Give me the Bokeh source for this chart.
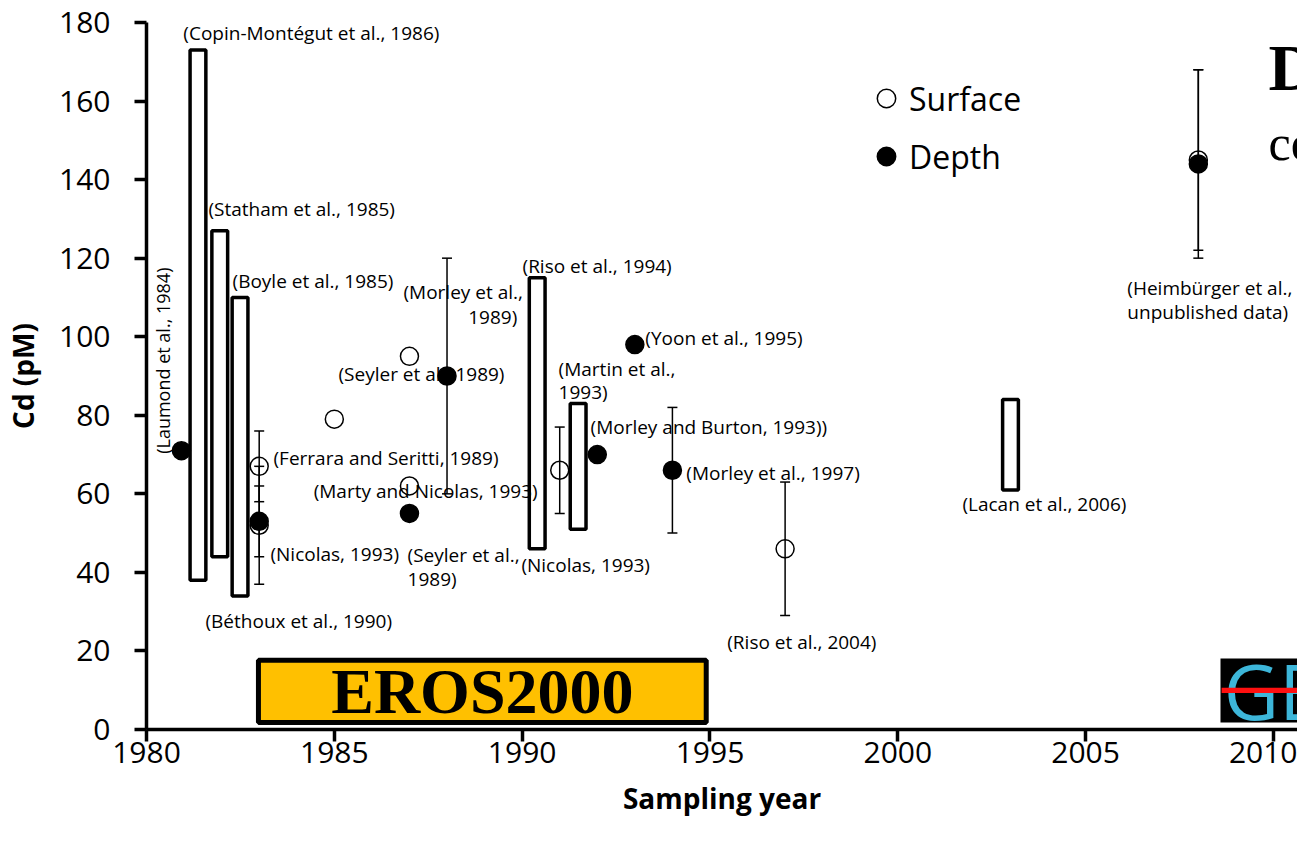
import math
from bokeh.plotting import figure
from bokeh.models import (ColumnDataSource, Whisker, TeeHead, BoxAnnotation, Label,
                          Legend, LegendItem, FixedTicker, Range1d)
from bokeh.embed import file_html
from bokeh.resources import INLINE
from bokeh.core.properties import value

# ---------------- data ----------------
# ranges reported as min-max boxes
range_year = [1981.37, 1981.95, 1982.49, 1990.40, 1991.49, 2003.0]
range_low = [38, 44, 34, 46, 51, 61]
range_high = [173, 127, 110, 115, 83, 84]

# surface samples (open circles)
surface_year = [1983, 1983, 1985, 1987, 1987, 1991, 1997, 2008]
surface_cd = [67, 52, 79, 95, 62, 66, 46, 145]
surface_err = [9, 15, 0, 0, 0, 11, 17, 23]

# depth samples (filled circles)
depth_year = [1980.93, 1983, 1987, 1988, 1992, 1993, 1994, 2008]
depth_cd = [71, 53, 55, 90, 70, 98, 66, 144]
depth_err = [0, 9, 0, 30, 0, 0, 16, 24]

x_ticks = [1980, 1985, 1990, 1995, 2000, 2005, 2010]
y_ticks = [0, 20, 40, 60, 80, 100, 120, 140, 160, 180]

# reference labels: text, anchor year, anchor Cd, alignment
ref_labels = [
    ("(Copin-Montégut et al., 1986)", 1980.98, 177.4, "left"),
    ("(Statham et al., 1985)", 1981.65, 132.6, "left"),
    ("(Boyle et al., 1985)", 1982.29, 114.3, "left"),
    ("(Morley et al.,", 1986.84, 111.3, "left"),
    ("1989)", 1989.87, 105.1, "right"),
    ("(Riso et al., 1994)", 1990.01, 118.1, "left"),
    ("(Seyler et al., 1989)", 1985.11, 90.6, "left"),
    ("(Yoon et al., 1995)", 1993.28, 99.8, "left"),
    ("(Martin et al.,", 1990.97, 91.9, "left"),
    ("1993)", 1990.97, 86.0, "left"),
    ("(Morley and Burton, 1993))", 1991.82, 77.1, "left"),
    ("(Ferrara and Seritti, 1989)", 1983.38, 69.0, "left"),
    ("(Morley et al., 1997)", 1994.37, 65.4, "left"),
    ("(Marty and Nicolas, 1993)", 1984.45, 60.6, "left"),
    ("(Nicolas, 1993)", 1983.30, 44.8, "left"),
    ("(Seyler et al.,", 1986.95, 44.3, "left"),
    ("1989)", 1986.95, 38.4, "left"),
    ("(Nicolas, 1993)", 1989.98, 42.0, "left"),
    ("(Béthoux et al., 1990)", 1981.57, 27.7, "left"),
    ("(Riso et al., 2004)", 1995.46, 22.4, "left"),
    ("(Lacan et al., 2006)", 2001.72, 57.3, "left"),
    ("(Heimbürger et al.,", 2006.11, 112.5, "left"),
    ("unpublished data)", 2006.11, 106.4, "left"),
]

FONT = "Open Sans"

p = figure(width=1297, height=835,
           x_range=Range1d(1980, 2010.64), y_range=Range1d(0, 180),
           output_backend="svg", toolbar_location=None,
           min_border_left=146, min_border_right=0,
           min_border_top=22, min_border_bottom=106)
p.outline_line_color = None
p.grid.visible = False
p.background_fill_color = "white"

# axes
for ax in (p.xaxis[0], p.yaxis[0]):
    ax.axis_line_width = 3.5
    ax.axis_line_color = "black"
    ax.major_tick_line_width = 3.5
    ax.major_tick_line_color = "black"
    ax.major_tick_out = 12
    ax.major_tick_in = 0
    ax.minor_tick_line_color = None
    ax.major_label_text_font = FONT
    ax.major_label_text_font_size = "30px"
    ax.major_label_text_color = "black"
    ax.axis_label_text_font = FONT
    ax.axis_label_text_font_style = "bold"
    ax.axis_label_text_font_size = "28px"
    ax.axis_label_text_color = "black"

p.xaxis.ticker = FixedTicker(ticks=x_ticks)
p.yaxis.ticker = FixedTicker(ticks=y_ticks)
p.xaxis.axis_label = "Sampling year"
p.yaxis.axis_label = "Cd (pM)"
p.xaxis.major_label_standoff = 0
p.xaxis.axis_label_standoff = 13
p.yaxis.major_label_standoff = 24
p.yaxis.axis_label_standoff = 14

# range boxes
p.vbar(x=range_year, width=0.42, bottom=range_low, top=range_high,
       fill_color="white", line_color="black", line_width=3.5)


def err_source(xs, ys, es):
    xx, lo, hi = [], [], []
    for x, y, e in zip(xs, ys, es):
        if e > 0:
            xx.append(x)
            lo.append(y - e)
            hi.append(y + e)
    return ColumnDataSource(dict(x=xx, lower=lo, upper=hi))


for xs, ys, es in ((surface_year, surface_cd, surface_err),
                   (depth_year, depth_cd, depth_err)):
    w = Whisker(base="x", lower="lower", upper="upper",
                source=err_source(xs, ys, es), dimension="height",
                line_color="black", line_width=1.5, level="glyph",
                upper_head=TeeHead(size=10, line_width=1.5, line_color="black"),
                lower_head=TeeHead(size=10, line_width=1.5, line_color="black"))
    p.add_layout(w)

rs = p.scatter(surface_year, surface_cd, marker="circle", size=18,
               fill_color="white", line_color="black", line_width=1.5)
rd = p.scatter(depth_year, depth_cd, marker="circle", size=18,
               fill_color="black", line_color="black", line_width=1.5)

# reference labels
left = [r for r in ref_labels if r[3] == "left"]
right = [r for r in ref_labels if r[3] == "right"]
for group, align in ((left, "left"), (right, "right")):
    src = ColumnDataSource(dict(text=[g[0] for g in group],
                                x=[g[1] for g in group],
                                y=[g[2] for g in group]))
    p.text(x="x", y="y", text="text", source=src, text_font=value(FONT),
           text_font_size="19px", text_color="black",
           text_align=align, text_baseline="middle")

p.add_layout(Label(x=1980.45, y=93.9, text="(Laumond et al., 1984)", angle=math.pi / 2,
                   text_font=FONT, text_font_size="18px", text_color="black",
                   text_align="center", text_baseline="middle"))

# legend
legend = Legend(items=[LegendItem(label="Surface", renderers=[rs]),
                       LegendItem(label="Depth", renderers=[rd])],
                location=(717, 550), glyph_width=46, glyph_height=46,
                label_text_font=FONT, label_text_font_size="32px",
                label_text_color="black", label_standoff=0, spacing=12,
                padding=0, margin=0, border_line_color=None,
                background_fill_alpha=0)
p.add_layout(legend)

# EROS2000 banner
p.add_layout(BoxAnnotation(left=1982.98, right=1994.9, bottom=1.8, top=17.6,
                           fill_color="#FFC000", fill_alpha=1, line_color="black",
                           line_width=5, line_alpha=1))
p.add_layout(Label(x=1988.94, y=9.7, text="EROS2000", text_font="Liberation Serif",
                   text_font_style="bold", text_font_size="64px", text_color="black",
                   text_align="center", text_baseline="middle"))

# logo fragment at right
p.add_layout(BoxAnnotation(left=2008.59, right=2011.5, bottom=1.8, top=18.1,
                           fill_color="black", fill_alpha=1, line_color=None))
p.add_layout(Label(x=2008.68, y=9.9, text="GE", text_font="Open Sans",
                   text_font_size="76px", text_color="#3DB6D9",
                   text_align="left", text_baseline="middle"))
p.add_layout(BoxAnnotation(left=2008.62, right=2011.5, bottom=9.3, top=10.6,
                           fill_color="#FF1010", fill_alpha=1, line_color=None))

# slide title fragments
p.add_layout(Label(x=2009.87, y=168.5, text="D", text_font="Liberation Serif",
                   text_font_style="bold", text_font_size="66px", text_color="black",
                   text_align="left", text_baseline="alphabetic"))
p.add_layout(Label(x=2009.87, y=149.4, text="co", text_font="Liberation Serif",
                   text_font_size="50px", text_color="black",
                   text_align="left", text_baseline="alphabetic"))

open("out.html", "w").write(file_html(p, INLINE))
